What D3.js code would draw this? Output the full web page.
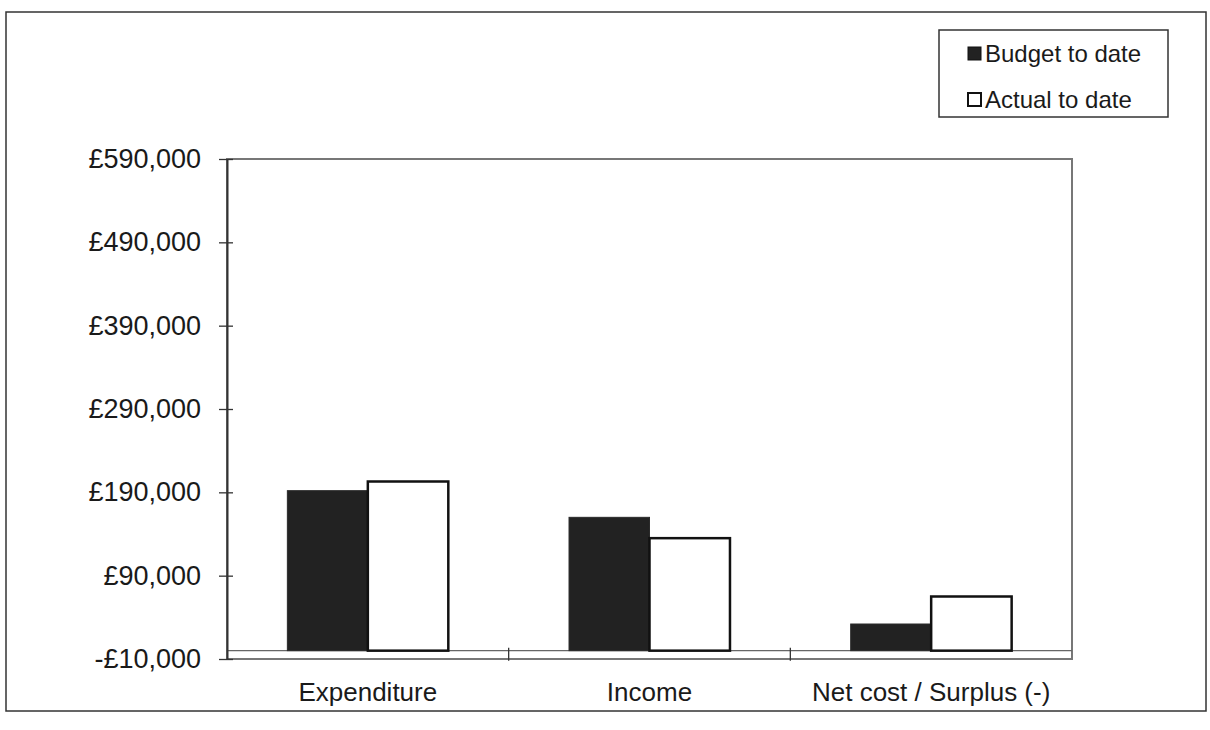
<!DOCTYPE html>
<html>
<head>
<meta charset="utf-8">
<script src="https://cdn.jsdelivr.net/npm/d3@7"></script>
<style>
  html, body { margin: 0; padding: 0; background: #fff; }
  svg { display: block; }
  text { font-family: Arial, "Liberation Sans", sans-serif; fill: #1a1a1a; }
</style>
</head>
<body>
<svg id="chart" width="1210" height="730"></svg>
<script>
const categories = ["Expenditure", "Income", "Net cost / Surplus (-)"];
const seriesNames = ["Budget to date", "Actual to date"];
const budgetValues = [192000, 160000, 32000];
const actualValues = [203000, 135000, 65000];
const yTickValues = [-10000, 90000, 190000, 290000, 390000, 490000, 590000];

const svg = d3.select("#chart");
const W = 1210, H = 730;
svg.append("rect").attr("width", W).attr("height", H).attr("fill", "#fff");

// outer frame
svg.append("rect").attr("x", 6).attr("y", 12).attr("width", 1200).attr("height", 699)
  .attr("fill", "none").attr("stroke", "#333").attr("stroke-width", 1.5);

const plot = { left: 227, right: 1072, top: 159, bottom: 659 };

const y = d3.scaleLinear().domain([-10000, 590000]).range([plot.bottom, plot.top]);
const x0 = d3.scaleBand().domain(categories).range([plot.left, plot.right]).padding(0);
const x1 = d3.scaleBand().domain(seriesNames).range([0, x0.bandwidth()]).paddingInner(0).paddingOuter(0.75);

const locale = d3.formatLocale({ decimal: ".", thousands: ",", grouping: [3], currency: ["£", ""], minus: "-" });
const fmt = locale.format("$,");

// plot area border
svg.append("rect").attr("x", plot.left).attr("y", plot.top)
  .attr("width", plot.right - plot.left).attr("height", plot.bottom - plot.top)
  .attr("fill", "#fff").attr("stroke", "#777").attr("stroke-width", 2);

// zero line
svg.append("line").attr("x1", plot.left).attr("x2", plot.right)
  .attr("y1", y(0)).attr("y2", y(0)).attr("stroke", "#666").attr("stroke-width", 1.2);

// bars
const data = categories.map((c, i) => ({ cat: c, vals: [
  { s: seriesNames[0], v: budgetValues[i] },
  { s: seriesNames[1], v: actualValues[i] } ] }));

const groups = svg.append("g").selectAll("g").data(data).join("g")
  .attr("transform", d => `translate(${x0(d.cat)},0)`);

groups.selectAll("rect").data(d => d.vals).join("rect")
  .attr("x", d => x1(d.s))
  .attr("width", x1.bandwidth())
  .attr("y", d => y(Math.max(0, d.v)))
  .attr("height", d => Math.abs(y(d.v) - y(0)))
  .attr("fill", d => d.s === seriesNames[0] ? "#222" : "#fff")
  .attr("stroke", d => d.s === seriesNames[0] ? "#2a2a2a" : "#111")
  .attr("stroke-width", d => d.s === seriesNames[0] ? 1 : 2.5);

// y axis
const yAxis = d3.axisLeft(y).tickValues(yTickValues).tickFormat(fmt).tickSizeInner(0).tickSizeOuter(0).tickPadding(26);
const gy = svg.append("g").attr("transform", `translate(${plot.left},0)`).call(yAxis);
gy.select(".domain").attr("stroke", "#333").attr("stroke-width", 2);
gy.selectAll(".tick text").attr("font-size", 27).attr("fill", "#1a1a1a")
  .attr("font-family", "Arial, 'Liberation Sans', sans-serif");
gy.selectAll(".tick").append("line").attr("x1", -8).attr("x2", 6).attr("stroke", "#333").attr("stroke-width", 1.3);

// x axis ticks at category boundaries
const boundaries = categories.slice(1).map(c => x0(c));
svg.append("g").selectAll("line").data(boundaries).join("line")
  .attr("x1", d => d).attr("x2", d => d)
  .attr("y1", y(0) - 3).attr("y2", y(0) + 10)
  .attr("stroke", "#333").attr("stroke-width", 1.3);

// x labels
svg.append("g").selectAll("text").data(categories).join("text")
  .attr("x", d => x0(d) + x0.bandwidth() / 2)
  .attr("y", 701)
  .attr("text-anchor", "middle")
  .attr("font-size", 26)
  .text(d => d);

// legend
const leg = svg.append("g");
leg.append("rect").attr("x", 939).attr("y", 30).attr("width", 229).attr("height", 87)
  .attr("fill", "#fff").attr("stroke", "#333").attr("stroke-width", 1.5);
const legItems = leg.selectAll("g").data(seriesNames).join("g")
  .attr("transform", (d, i) => `translate(968, ${47 + i * 46})`);
legItems.append("rect").attr("width", 13).attr("height", 13)
  .attr("fill", (d, i) => i === 0 ? "#222" : "#fff")
  .attr("stroke", "#111").attr("stroke-width", (d, i) => i === 0 ? 1 : 2);
legItems.append("text").attr("x", 17).attr("y", 15).attr("font-size", 24).text(d => d);
</script>
</body>
</html>
